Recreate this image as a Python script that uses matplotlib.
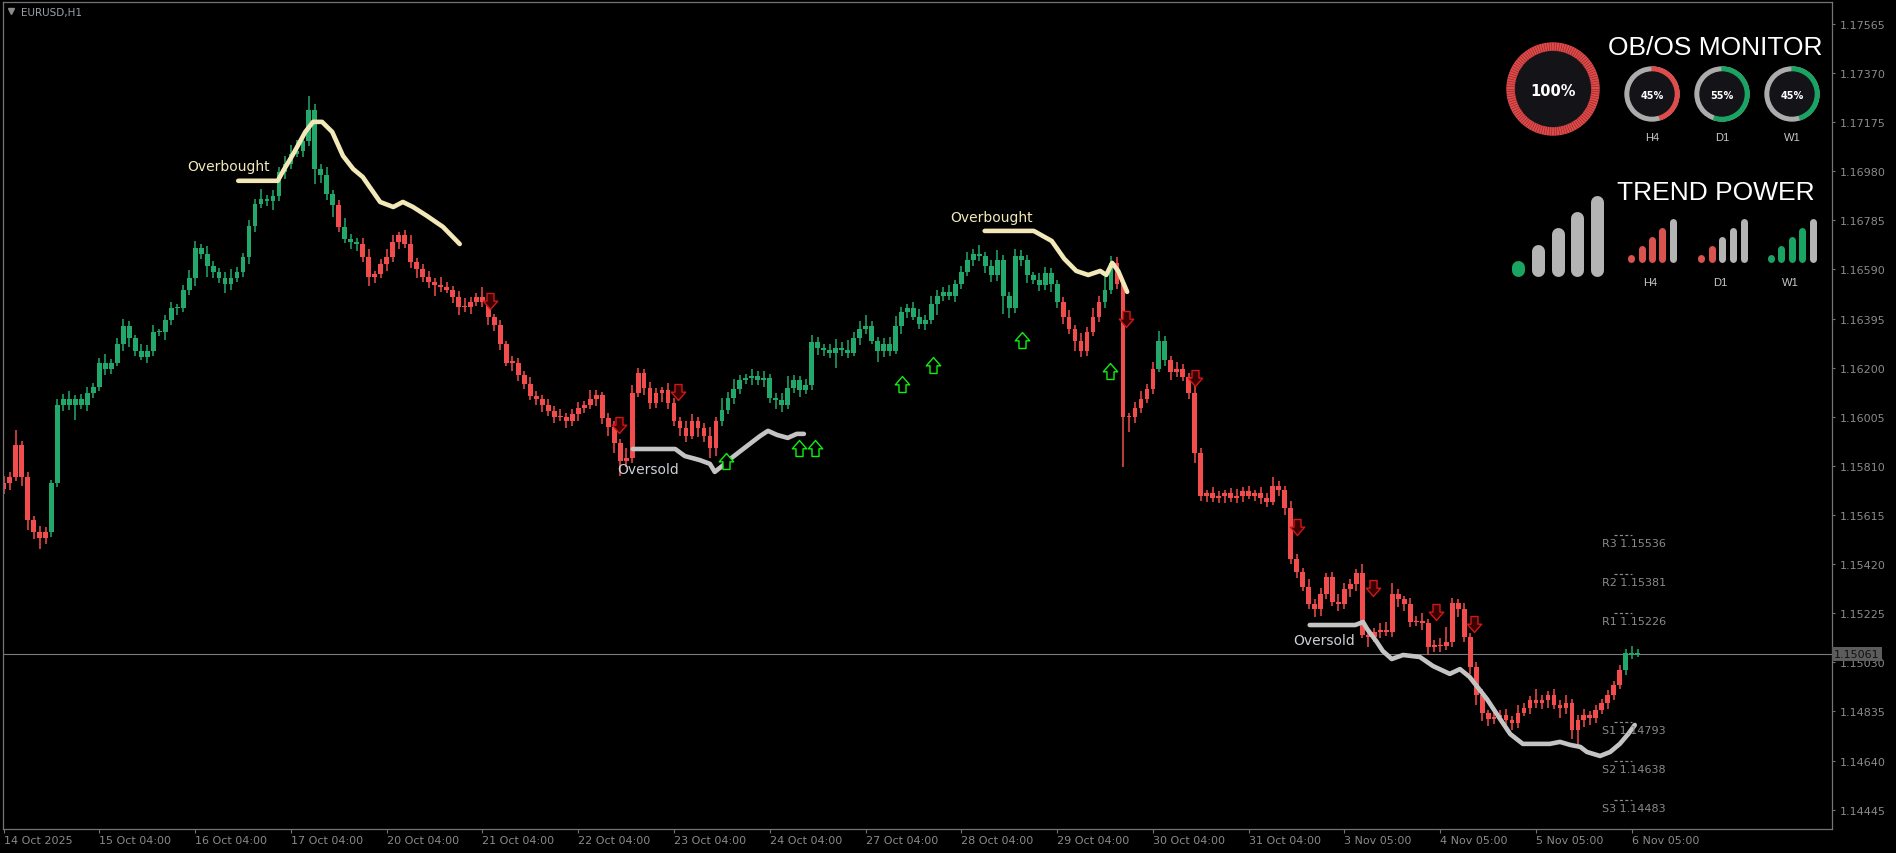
import numpy as np
import matplotlib.pyplot as plt
from matplotlib.path import Path
from matplotlib.patches import Circle, Wedge
from matplotlib.transforms import blended_transform_factory

# prices are kept in points (0.00001) above BASE
BASE = 1.14

# bar closes, one row per trading day (16 bars per day on this scale)
close_pts = [
    1740, 1764, 1893, 1764, 1596, 1548, 1524, 1548, 1740, 2052, 2076, 2052, 2076, 2052, 2100, 2124,
    2220, 2196, 2220, 2292, 2364, 2316, 2268, 2244, 2268, 2340, 2340, 2388, 2436, 2436, 2508, 2556,
    2676, 2652, 2604, 2580, 2556, 2532, 2556, 2580, 2640, 2762, 2850, 2870, 2860, 2880, 2975, 3010,
    3050, 3060, 3100, 3223, 2990, 2965, 2890, 2845, 2760, 2710, 2700, 2690, 2640, 2560, 2570, 2610,
    2640, 2700, 2725, 2690, 2620, 2590, 2560, 2540, 2530, 2520, 2510, 2480, 2440, 2440, 2460, 2480,
    2460, 2400, 2370, 2292, 2220, 2220, 2172, 2134, 2086, 2076, 2052, 2028, 2004, 2004, 1990, 2014,
    2038, 2052, 2076, 2090, 2000, 1965, 1900, 1830, 1840, 2100, 2180, 2120, 2060, 2100, 2110, 2060,
    1990, 1960, 1930, 1990, 1960, 1930, 1880, 1990, 2030, 2080, 2115, 2150, 2160, 2165, 2150, 2160,
    2080, 2070, 2050, 2120, 2150, 2110, 2130, 2300, 2280, 2270, 2260, 2280, 2270, 2260, 2316, 2355,
    2364, 2307, 2268, 2292, 2268, 2364, 2422, 2436, 2403, 2374, 2388, 2451, 2484, 2499, 2484, 2532,
    2580, 2628, 2652, 2643, 2604, 2566, 2628, 2484, 2436, 2643, 2628, 2566, 2547, 2528, 2576, 2532,
    2460, 2403, 2355, 2307, 2268, 2340, 2403, 2460, 2508, 2614, 2532, 2004, 2004, 2038, 2076, 2114,
    2196, 2307, 2230, 2182, 2196, 2162, 2100, 1860, 1692, 1701, 1682, 1692, 1701, 1682, 1692, 1711,
    1692, 1701, 1682, 1668, 1730, 1716, 1644, 1440, 1390, 1330, 1260, 1240, 1300, 1370, 1270, 1260,
    1320, 1340, 1385, 1140, 1130, 1150, 1160, 1150, 1300, 1280, 1260, 1190, 1195, 1185, 1090, 1100,
    1095, 1110, 1265, 1240, 1130, 1010, 899, 827, 803, 813, 820, 800, 790, 830, 850, 880,
    870, 880, 900, 860, 850, 870, 760, 800, 820, 810, 840, 870, 900, 940, 1000, 1068,
    1060, 1061,
]
first_open = 1720

up_wick = [
    30, 20, 60, 15, 20, 15, 25, 20, 15, 25, 20, 30, 15, 20, 25, 15,
    20, 35, 15, 25, 30, 20, 15, 25, 20, 30, 15, 20, 25, 15, 20, 30,
    25, 15, 30, 20, 15, 25, 35, 20, 15, 25, 20, 40, 15, 25, 20, 30,
    35, 45, 30, 56, 25, 20, 30, 15, 20, 35, 20, 15, 25, 30, 15, 20,
    30, 25, 15, 20, 35, 15, 20, 25, 15, 30, 20, 15, 25, 35, 20, 15,
    40, 25, 15, 20, 15, 25, 20, 15, 30, 20, 15, 25, 20, 30, 15, 20,
    25, 15, 35, 20, 15, 20, 25, 15, 40, 30, 20, 15, 25, 20, 15, 30,
    20, 15, 30, 25, 15, 20, 35, 15, 50, 25, 40, 20, 15, 30, 20, 25,
    15, 20, 30, 45, 20, 15, 25, 30, 20, 15, 25, 35, 20, 40, 25, 30,
    45, 20, 15, 25, 30, 40, 20, 15, 25, 30, 20, 35, 25, 20, 30, 15,
    25, 30, 20, 35, 15, 25, 40, 20, 15, 30, 25, 20, 15, 30, 25, 20,
    15, 20, 25, 15, 30, 20, 35, 25, 50, 30, 25, 20, 15, 25, 30, 20,
    25, 40, 20, 15, 25, 20, 15, 30, 20, 15, 25, 20, 15, 20, 25, 15,
    20, 15, 25, 20, 35, 20, 15, 25, 20, 15, 30, 20, 25, 15, 20, 30,
    25, 20, 15, 35, 20, 15, 25, 30, 45, 20, 15, 25, 20, 30, 15, 20,
    25, 60, 20, 15, 25, 15, 20, 25, 15, 30, 20, 25, 15, 30, 20, 15,
    45, 20, 15, 25, 20, 30, 15, 20, 25, 15, 20, 15, 20, 15, 20, 15,
    25, 20,
]
dn_wick = [
    20, 25, 15, 35, 40, 30, 45, 25, 20, 15, 25, 20, 60, 15, 25, 20,
    15, 25, 20, 15, 25, 35, 20, 15, 25, 20, 15, 30, 20, 25, 15, 20,
    30, 20, 45, 25, 20, 35, 25, 15, 20, 30, 25, 15, 20, 35, 20, 25,
    20, 15, 25, 20, 60, 30, 25, 45, 20, 15, 30, 25, 20, 35, 25, 15,
    25, 20, 30, 15, 25, 35, 20, 25, 45, 20, 15, 25, 30, 20, 25, 15,
    20, 30, 25, 20, 15, 35, 25, 20, 15, 25, 30, 20, 25, 15, 30, 20,
    25, 20, 15, 30, 25, 35, 40, 60, 25, 20, 15, 30, 25, 20, 35, 25,
    20, 30, 25, 15, 35, 25, 40, 30, 20, 15, 25, 20, 15, 30, 20, 25,
    20, 35, 25, 15, 20, 25, 15, 20, 30, 25, 20, 60, 25, 20, 15, 25,
    20, 15, 45, 25, 20, 15, 30, 25, 15, 20, 25, 15, 40, 20, 15, 25,
    20, 15, 25, 20, 30, 25, 20, 70, 40, 20, 25, 30, 15, 25, 20, 30,
    25, 30, 20, 40, 25, 20, 15, 20, 25, 15, 20, 200, 60, 25, 20, 15,
    20, 15, 25, 30, 20, 15, 25, 40, 20, 25, 15, 20, 30, 15, 20, 25,
    15, 20, 25, 20, 15, 25, 30, 20, 25, 15, 20, 30, 25, 20, 15, 25,
    20, 30, 25, 15, 40, 20, 25, 15, 20, 30, 25, 20, 15, 25, 30, 20,
    25, 15, 20, 30, 20, 25, 40, 30, 25, 20, 15, 25, 30, 20, 15, 25,
    20, 25, 30, 15, 40, 25, 35, 60, 25, 30, 20, 15, 25, 20, 15, 20,
    15, 10,
]

# trend colouring of the candles: regime start bar and direction
trend_start = [0, 8, 56, 57, 60, 120, 177, 184, 186, 193, 195, 271]
trend_dir = [-1, 1, -1, 1, -1, 1, -1, 1, -1, 1, -1, 1]

# overbought / oversold curves (bar, points)
ob1_x = [39.2, 45.8, 46.7, 48.4, 50.4, 51.7, 53.2, 54.9, 56.7, 58.4, 60.0, 62.9, 65.1, 66.7, 68.4, 70.7, 73.4, 76.2]
ob1_y = [2942, 2942, 2981, 3049, 3136, 3176, 3176, 3136, 3041, 2989, 2957, 2858, 2838, 2858, 2838, 2803, 2759, 2691]
ob2_x = [163.9, 172.1, 175.1, 177.2, 179.2, 181.2, 183.2, 184.2, 185.2, 186.2, 187.7]
ob2_y = [2743, 2743, 2703, 2632, 2584, 2568, 2584, 2568, 2616, 2584, 2501]
os1_x = [105.1, 112.2, 113.8, 116.3, 118.0, 118.8, 120.5, 121.8, 124.2, 126.4, 127.7, 129.2, 131.0, 132.5, 133.7]
os1_y = [1877, 1877, 1849, 1833, 1818, 1786, 1818, 1845, 1889, 1929, 1949, 1933, 1921, 1937, 1937]
os2_x = [218.2, 225.8, 227.1, 227.8, 229.4, 230.4, 231.9, 233.8, 236.6, 238.8, 241.6, 243.3, 244.9, 247.8,
         250.0, 251.7, 253.8, 258.3, 260.0, 261.7, 263.4, 264.5, 266.7, 268.4, 270.0, 271.4, 272.5]
os2_y = [1178, 1178, 1190, 1162, 1111, 1075, 1043, 1059, 1051, 1015, 984, 1003, 972, 884,
         805, 745, 706, 706, 714, 702, 694, 674, 658, 674, 706, 745, 781]

zone_labels = ['Overbought', 'Overbought', 'Oversold', 'Oversold']
zone_label_x = [30.6, 158.1, 102.5, 215.4]
zone_label_y = [3001, 2799, 1798, 1119]
zone_kind = ['ob', 'ob', 'os', 'os']

# signal arrows (bar, points)
sell_x = [81.3, 102.8, 112.7, 187.5, 199.0, 216.1, 228.8, 239.3, 245.6]
sell_y = [2465, 1972, 2104, 2393, 2159, 1567, 1325, 1230, 1182]
buy_x = [120.7, 132.9, 135.5, 150.1, 155.3, 170.1, 184.8]
buy_y = [1829, 1881, 1881, 2135, 2211, 2310, 2187]

# daily pivots
pivot_names = ['R3', 'R2', 'R1', 'S1', 'S2', 'S3']
pivot_levels = [1.15536, 1.15381, 1.15226, 1.14793, 1.14638, 1.14483]

last_price = 1.15061

price_ticks = [1.17565, 1.17370, 1.17175, 1.16980, 1.16785, 1.16590, 1.16395, 1.16200, 1.16005,
               1.15810, 1.15615, 1.15420, 1.15225, 1.15030, 1.14835, 1.14640, 1.14445]
date_pos = [0, 16, 32, 48, 64, 80, 96, 112, 128, 144, 160, 176, 192, 208, 224, 240, 256, 272]
date_labels = ['14 Oct 2025', '15 Oct 04:00', '16 Oct 04:00', '17 Oct 04:00', '20 Oct 04:00',
               '21 Oct 04:00', '22 Oct 04:00', '23 Oct 04:00', '24 Oct 04:00', '27 Oct 04:00',
               '28 Oct 04:00', '29 Oct 04:00', '30 Oct 04:00', '31 Oct 04:00', '3 Nov 05:00',
               '4 Nov 05:00', '5 Nov 05:00', '6 Nov 05:00']

# dashboard values
obos_main = 100
obos_tf = ['H4', 'D1', 'W1']
obos_pct = [45, 55, 45]
obos_dir = [-1, 1, 1]
trend_main_level = 1
trend_tf_level = [4, 2, 4]
trend_tf_dir = [-1, -1, 1]

# ---------------------------------------------------------------- colours
UP = '#22a86b'
DN = '#f24c4c'
FRAME = '#747474'
AXTXT = '#8a8a8a'
OB_COL = '#f3e9b8'
OS_COL = '#c4c4c4'

W_PX, H_PX = 1896, 854
fig = plt.figure(figsize=(W_PX / 100, H_PX / 100), dpi=100, facecolor='black')
ax = fig.add_axes([3 / W_PX, 24 / H_PX, 1829 / W_PX, 827 / H_PX], facecolor='black')

close = BASE + np.array(close_pts) / 1e5
opens = np.concatenate([[BASE + first_open / 1e5], close[:-1]])
hi = np.maximum(opens, close) + np.array(up_wick) / 1e5
lo = np.minimum(opens, close) - np.array(dn_wick) / 1e5
n = len(close)
x = np.arange(n)

direction = np.zeros(n)
for s, d in zip(trend_start, trend_dir):
    direction[s:] = d
colors = [UP if d > 0 else DN for d in direction]

body_lo = np.minimum(opens, close)
body_h = np.maximum(np.abs(close - opens), 0.00005)
ax.vlines(x, lo, hi, colors=colors, lw=1.1, zorder=2)
ax.bar(x, body_h, bottom=body_lo, width=0.8, color=colors, linewidth=0, zorder=2)

# zone curves
for xs, ys, c in [(ob1_x, ob1_y, OB_COL), (ob2_x, ob2_y, OB_COL),
                  (os1_x, os1_y, OS_COL), (os2_x, os2_y, OS_COL)]:
    ax.plot(xs, BASE + np.array(ys) / 1e5, color=c, lw=3.3, solid_capstyle='round',
            solid_joinstyle='round', zorder=3)
for t, lx, ly, k in zip(zone_labels, zone_label_x, zone_label_y, zone_kind):
    ax.text(lx, BASE + ly / 1e5, t, color=OB_COL if k == 'ob' else '#cbd0d6', fontsize=10,
            ha='left', va='center', zorder=4)

# arrows
verts = [(-0.22, 0.5), (0.22, 0.5), (0.22, 0.02), (0.45, 0.02), (0, -0.5),
         (-0.45, 0.02), (-0.22, 0.02), (-0.22, 0.5)]
codes = [Path.MOVETO] + [Path.LINETO] * 6 + [Path.CLOSEPOLY]
down_arrow = Path(verts, codes)
up_arrow = Path([(vx, -vy) for vx, vy in verts], codes)
ax.plot(sell_x, BASE + np.array(sell_y) / 1e5, ls='none', marker=down_arrow, ms=11.5,
        mec='#d01818', mfc='#3a0000', mew=1.0, zorder=4)
ax.plot(buy_x, BASE + np.array(buy_y) / 1e5, ls='none', marker=up_arrow, ms=11.5,
        mec='#10f010', mfc='black', mew=1.0, zorder=4)

# pivots
for name, lvl in zip(pivot_names, pivot_levels):
    ax.plot([269.0, 272.0], [lvl, lvl], color='#8a8a8a', lw=0.9, ls=(0, (2.5, 1.8)), zorder=3)
    ax.annotate(f'{name} {lvl:.5f}', (267.0, lvl), xytext=(0, -6), textcoords='offset points',
                color='#8a8a8a', fontsize=8, ha='left', va='center', zorder=4)

# current price
ax.axhline(last_price, color='#7c7c7c', lw=0.8, zorder=1)
tr = blended_transform_factory(ax.transAxes, ax.transData)
ax.text(1.0012, last_price, f'{last_price:.5f}', transform=tr, color='#111111', fontsize=8,
        ha='left', va='center', zorder=6,
        bbox=dict(boxstyle='square,pad=0.18', fc='#5c5c5c', ec='none'))

# axes styling
ax.set_xlim(-0.1, 305.45)
ax.set_ylim(1.14368, 1.17652)
for sp in ax.spines.values():
    sp.set_color(FRAME)
    sp.set_linewidth(0.9)
ax.yaxis.tick_right()
ax.set_yticks(price_ticks)
ax.set_yticklabels([f'{p:.5f}' for p in price_ticks])
ax.set_xticks(date_pos)
ax.set_xticklabels(date_labels, ha='left')
ax.tick_params(axis='y', direction='out', length=2.5, width=0.8, color=FRAME,
               labelcolor=AXTXT, labelsize=8, pad=3)
ax.tick_params(axis='x', direction='out', length=3, width=0.8, color=FRAME,
               labelcolor=AXTXT, labelsize=8, pad=1.5)

# ---------------------------------------------------------------- overlay in pixels
ov = fig.add_axes([0, 0, 1, 1])
ov.set_xlim(0, W_PX)
ov.set_ylim(H_PX, 0)
ov.axis('off')

ov.plot(11, 12, marker='v', ms=5, color='#8c8c8c', ls='none')
ov.text(21, 13, 'EURUSD,H1', color='#9aa0a6', fontsize=7.5, ha='left', va='center')

RED_W = '#e04c4c'
GREEN_W = '#19a463'
GRAY_W = '#acacac'
DISK = '#141418'

# big gauge
cx, cy = 1553, 90
ov.add_patch(Wedge((cx, cy), 46, 0, 360, width=8, color=RED_W))
for a in np.linspace(0, 2 * np.pi, 110, endpoint=False):
    ov.plot([cx + 38 * np.cos(a), cx + 46 * np.cos(a)], [cy + 38 * np.sin(a), cy + 46 * np.sin(a)],
            color='#8a2020', lw=0.4)
ov.add_patch(Circle((cx, cy), 37.5, color=DISK))
ov.text(cx, cy + 1, f'{obos_main}%', color='white', fontsize=10.5, fontweight='bold',
        ha='center', va='center')

ov.text(1823, 48, 'OB/OS MONITOR', color='white', fontsize=19, family='Liberation Sans',
        ha='right', va='center')

gx = [1652, 1722, 1792]
for k in range(3):
    col = GREEN_W if obos_dir[k] > 0 else RED_W
    ov.add_patch(Wedge((gx[k], 95), 27, 0, 360, width=5, color=GRAY_W))
    ov.add_patch(Wedge((gx[k], 95), 27, 270, 270 + obos_pct[k] * 3.6, width=5, color=col))
    ov.add_patch(Circle((gx[k], 95), 22, color=DISK))
    ov.text(gx[k], 96, f'{obos_pct[k]}%', color='white', fontsize=7, fontweight='bold',
            ha='center', va='center')
    ov.text(gx[k], 138, obos_tf[k], color='#c8c8c8', fontsize=8, family='Liberation Sans',
            ha='center', va='center')

# trend power
ov.text(1815, 193, 'TREND POWER', color='white', fontsize=19, family='Liberation Sans',
        ha='right', va='center')


def pill(xc, top, bottom, w, color):
    y0, y1 = bottom - w / 2, top + w / 2
    if y1 >= y0:
        y0, y1 = (top + bottom) / 2 + 0.5, (top + bottom) / 2 - 0.5
    ov.plot([xc, xc], [y0, y1], color=color, lw=w * 0.72, solid_capstyle='round')


big_x = [1518, 1538, 1558, 1577, 1597]
big_top = [261, 245, 228, 212, 196]
for k in range(5):
    pill(big_x[k], big_top[k], 277, 13, GREEN_W if k < trend_main_level else '#b4b4b4')

grp_x = [[1631, 1642, 1652, 1662, 1673], [1701, 1712, 1722, 1733, 1744], [1771, 1781, 1792, 1802, 1813]]
small_top = [255, 246, 237, 228, 219]
for g in range(3):
    col = GREEN_W if trend_tf_dir[g] > 0 else '#d9534f'
    for k in range(5):
        pill(grp_x[g][k], small_top[k], 263, 7, col if k < trend_tf_level[g] else '#b4b4b4')
    ov.text(grp_x[g][2] - 2, 283, obos_tf[g], color='#c8c8c8', fontsize=8,
            family='Liberation Sans', ha='center', va='center')

fig.savefig('out.png', dpi=100, facecolor='black')
